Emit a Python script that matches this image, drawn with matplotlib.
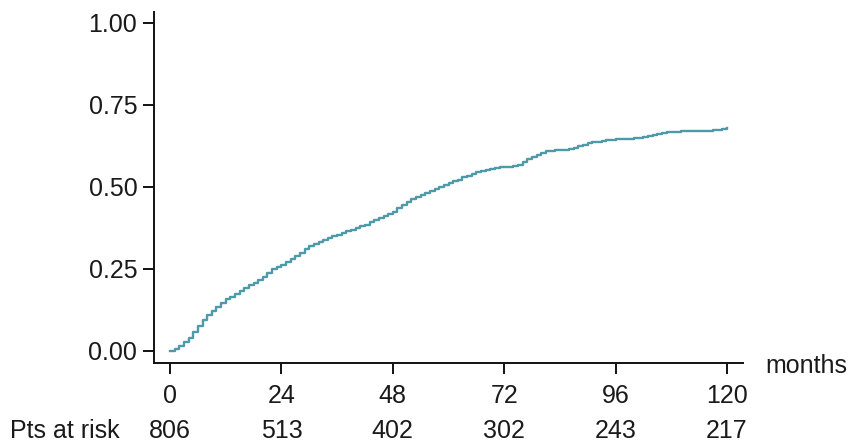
import matplotlib
matplotlib.use("Agg")
import matplotlib.pyplot as plt
import matplotlib.transforms as mtransforms

plt.rcParams['font.family'] = ['Liberation Sans', 'DejaVu Sans']

# Cumulative incidence (step function), one value per month since start
months = list(range(0, 121))
incidence = [
    0.000, 0.005, 0.015, 0.027, 0.040, 0.057, 0.075, 0.093, 0.110, 0.123,  # 0-9
    0.135, 0.147, 0.157, 0.166, 0.175, 0.183, 0.192, 0.200, 0.207, 0.216,  # 10-19
    0.225, 0.238, 0.250, 0.256, 0.262, 0.271, 0.280, 0.290, 0.300, 0.310,  # 20-29
    0.320, 0.327, 0.333, 0.339, 0.345, 0.350, 0.355, 0.360, 0.365, 0.370,  # 30-39
    0.375, 0.380, 0.385, 0.392, 0.400, 0.406, 0.412, 0.418, 0.425, 0.435,  # 40-49
    0.445, 0.454, 0.462, 0.469, 0.475, 0.482, 0.488, 0.494, 0.500, 0.506,  # 50-59
    0.512, 0.517, 0.522, 0.529, 0.535, 0.540, 0.545, 0.549, 0.552, 0.555,  # 60-69
    0.558, 0.560, 0.561, 0.562, 0.563, 0.568, 0.575, 0.584, 0.592, 0.599,  # 70-79
    0.605, 0.609, 0.611, 0.612, 0.612, 0.613, 0.615, 0.620, 0.625, 0.629,  # 80-89
    0.633, 0.636, 0.638, 0.640, 0.642, 0.644, 0.645, 0.646, 0.647, 0.647,  # 90-99
    0.648, 0.650, 0.652, 0.656, 0.660, 0.663, 0.665, 0.667, 0.668, 0.669,  # 100-109
    0.670, 0.670, 0.670, 0.670, 0.670, 0.670, 0.671, 0.673, 0.675, 0.678,  # 110-119
    0.680,                                                                 # 120
]

x_ticks = [0, 24, 48, 72, 96, 120]
y_ticks = [0.00, 0.25, 0.50, 0.75, 1.00]
at_risk = [806, 513, 402, 302, 243, 217]

FS = 18
TXT = '#1a1a1a'

W, H = 861, 442
fig = plt.figure(figsize=(W / 100, H / 100), dpi=100)
ax = fig.add_axes([154 / W, 1 - 363 / H, (743 - 154) / W, (363 - 12) / H])

ax.plot(months, incidence, drawstyle='steps-post', color='#4f9aa8', lw=1.7)

ax.set_xlim(-3.45, 123.45)
ax.set_ylim(-0.0366, 1.0335)
ax.set_xticks(x_ticks)
ax.set_xticklabels([str(t) for t in x_ticks])
ax.set_yticks(y_ticks)
ax.set_yticklabels([f"{t:.2f}" for t in y_ticks])

for side in ('top', 'right'):
    ax.spines[side].set_visible(False)
for side in ('left', 'bottom'):
    ax.spines[side].set_linewidth(1.4)
    ax.spines[side].set_color('#111111')

ax.tick_params(axis='both', direction='out', length=8, width=1.4,
               color='#111111', labelsize=FS, labelcolor=TXT)
ax.tick_params(axis='y', pad=4)
ax.tick_params(axis='x', pad=7)

# axis title placed at the end of the x axis
fig.text(765 / W, 1 - 373 / H, 'months', ha='left', va='baseline',
         fontsize=FS, color=TXT)

# number-at-risk row
trans = mtransforms.blended_transform_factory(ax.transData, fig.transFigure)
row_y = 1 - 438 / H
fig.text(10 / W, row_y, 'Pts at risk', ha='left', va='baseline',
         fontsize=FS, color=TXT)
for t, n in zip(x_ticks, at_risk):
    ax.text(t, row_y, str(n), transform=trans, ha='center', va='baseline',
            fontsize=FS, color=TXT, clip_on=False)

fig.savefig('out.png', dpi=100)
